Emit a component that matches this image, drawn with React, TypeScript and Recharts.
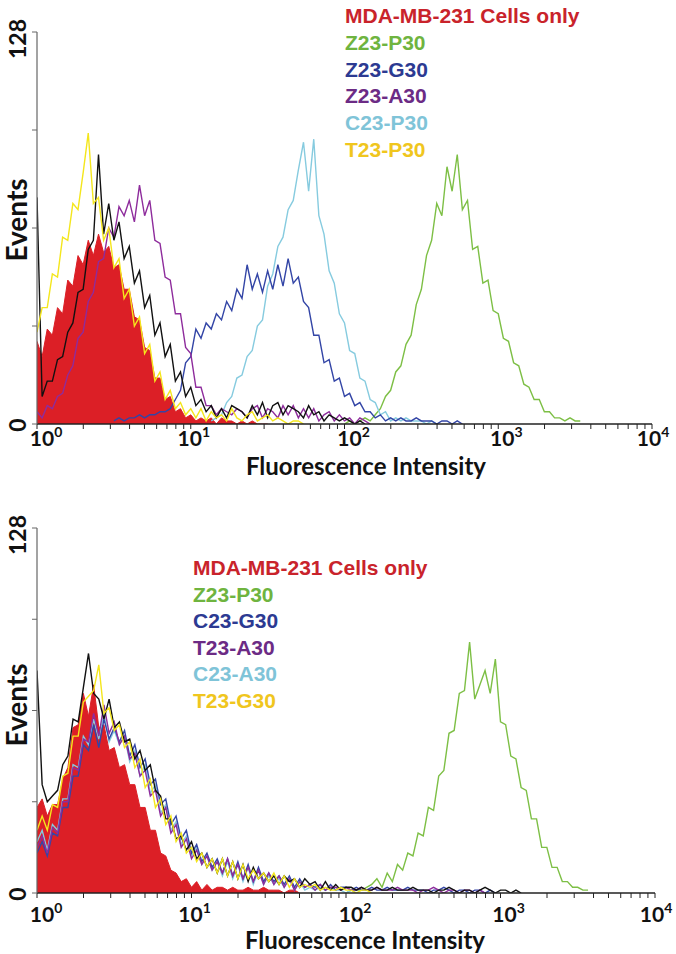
import React from "react";
import { ComposedChart, Area, Line, XAxis, YAxis } from "recharts";

// log-amplified channels: 30 channels per decade, 10^0 .. 10^4
const CH_PER_DECADE = 30;
const CHANNELS = 120;
const Y_TICKS = [0, 32, 64, 96, 128];

const RED = "#dc1f26";
const GREEN = "#7dbf45";
const BLUE = "#3345a6";
const PURPLE = "#8e2c9c";
const LIGHT = "#86cbdf";
const YELLOW = "#f4e61c";
const BLACK = "#111111";

const LEGEND_COLORS = ["#c9232b", "#6fb43f", "#2c3a92", "#6c2b85", "#7fc4d8", "#f0c61e"];

// ---------- panel A ----------
const A_LEGEND = ["MDA-MB-231 Cells only", "Z23-P30", "Z23-G30", "Z23-A30", "C23-P30", "T23-P30"];

const A_RED_START = 0;
const A_RED = [27, 22, 31, 29, 38, 36, 47, 45, 55, 52, 60, 55, 62, 56, 58, 51, 52, 44, 44, 35, 34, 25, 24, 15, 15, 8, 9, 4, 5, 2, 3, 1, 2, 1, 2, 0, 2, 1, 1, 0, 1, 0, 1, 0, 0, 0];

const A_BLACK_START = 0;
const A_BLACK = [74, 9, 14, 14, 21, 22, 30, 33, 43, 44, 57, 60, 88, 62, 72, 60, 66, 54, 58, 46, 50, 38, 42, 29, 33, 22, 26, 14, 17, 9, 12, 6, 8, 4, 6, 2, 5, 2, 6, 5, 4, 2, 6, 3, 7, 2, 6, 7, 3, 6, 5, 4, 2, 6, 3, 4, 1, 3, 2, 1, 2, 1, 0, 1, 0];

const A_YELLOW_START = 0;
const A_YELLOW = [30, 38, 38, 49, 48, 61, 60, 72, 70, 82, 95, 72, 74, 60, 64, 51, 54, 41, 44, 32, 35, 23, 26, 14, 17, 8, 11, 5, 7, 3, 5, 2, 5, 1, 4, 2, 3, 1, 5, 2, 1, 3, 4, 1, 2, 3, 1, 2, 1, 0, 1, 1, 0];

const A_PURPLE_START = 0;
const A_PURPLE = [4, 2, 6, 5, 9, 10, 16, 19, 28, 30, 40, 43, 53, 54, 64, 61, 71, 68, 73, 66, 78, 68, 73, 60, 59, 48, 47, 36, 36, 25, 23, 12, 12, 6, 6, 3, 5, 4, 3, 5, 4, 2, 5, 6, 2, 5, 4, 2, 6, 3, 6, 2, 5, 2, 5, 1, 3, 4, 1, 3, 1, 2, 0, 2, 1, 0];

const A_BLUE_START = 15;
const A_BLUE = [1, 2, 1, 2, 2, 3, 2, 3, 3, 4, 4, 5, 8, 11, 20, 22, 31, 28, 33, 31, 36, 34, 40, 37, 44, 41, 52, 44, 49, 43, 50, 44, 52, 45, 54, 46, 48, 40, 38, 29, 29, 20, 21, 14, 15, 9, 10, 6, 7, 4, 4, 2, 3, 1, 2, 1, 2, 1, 1, 2, 1, 1, 1, 0, 1, 1, 0, 1, 0];

const A_LIGHT_START = 34;
const A_LIGHT = [1, 2, 3, 7, 9, 15, 16, 22, 24, 32, 34, 45, 49, 58, 61, 70, 73, 83, 92, 76, 93, 68, 62, 50, 46, 36, 33, 24, 23, 15, 14, 8, 7, 3, 4, 1, 2, 1, 2, 1, 1, 1, 0, 1, 0];

const A_GREEN_START = 60;
const A_GREEN = [0, 1, 0, 1, 2, 1, 3, 5, 9, 11, 17, 19, 26, 29, 39, 44, 55, 60, 72, 68, 84, 76, 88, 70, 73, 57, 58, 46, 47, 37, 36, 28, 27, 20, 19, 13, 12, 8, 8, 4, 4, 2, 2, 1, 2, 1, 1];

// ---------- panel B ----------
const B_LEGEND = ["MDA-MB-231 Cells only", "Z23-P30", "C23-G30", "T23-A30", "C23-A30", "T23-G30"];

const B_RED_START = 0;
const B_RED = [30, 33, 27, 31, 31, 40, 44, 58, 59, 70, 62, 73, 58, 59, 50, 51, 44, 45, 38, 38, 30, 30, 22, 22, 14, 13, 8, 7, 4, 5, 2, 4, 1, 3, 1, 2, 2, 1, 2, 1, 1, 2, 1, 1, 2, 1, 1, 1, 0, 1, 1, 0];

const B_BLACK_START = 0;
const B_BLACK = [78, 38, 32, 34, 36, 45, 48, 61, 60, 72, 84, 70, 68, 61, 68, 58, 60, 53, 54, 47, 50, 43, 45, 36, 34, 26, 26, 19, 20, 15, 18, 12, 14, 9, 12, 7, 12, 6, 11, 5, 10, 4, 9, 5, 7, 4, 6, 3, 6, 4, 5, 2, 5, 3, 4, 1, 4, 1, 3, 1, 2, 2, 1, 2, 1, 1, 2, 1, 1, 2, 1, 1, 1, 2, 1, 1, 1, 0, 1, 1, 2, 1, 0, 1, 1, 0, 1, 2, 1, 0, 1, 1, 0, 1, 0];

const B_YELLOW_START = 0;
const B_YELLOW = [22, 27, 22, 31, 30, 41, 42, 55, 55, 67, 69, 71, 80, 63, 65, 57, 59, 51, 53, 44, 47, 37, 40, 30, 33, 24, 27, 18, 21, 14, 16, 11, 14, 9, 12, 7, 12, 6, 11, 5, 10, 5, 8, 5, 7, 4, 7, 3, 6, 2, 5, 2, 3, 2, 3, 1, 2, 1, 1, 2, 1, 1, 0, 1, 1, 0];

const B_LIGHT_START = 0;
const B_LIGHT = [18, 22, 15, 24, 22, 33, 33, 45, 44, 55, 52, 61, 54, 63, 53, 57, 52, 55, 46, 50, 41, 45, 35, 38, 28, 31, 22, 25, 17, 20, 13, 16, 10, 13, 8, 11, 6, 11, 5, 10, 4, 9, 3, 8, 3, 6, 3, 5, 2, 5, 1, 4, 1, 2, 1, 2, 1, 2, 1, 1, 0, 1, 0];

const B_BLUE_START = 0;
const B_BLUE = [14, 18, 13, 21, 20, 30, 30, 41, 41, 52, 50, 59, 51, 61, 54, 58, 53, 57, 48, 52, 44, 47, 38, 40, 31, 33, 24, 27, 19, 22, 14, 17, 11, 14, 9, 12, 7, 12, 6, 11, 5, 10, 4, 9, 4, 7, 4, 6, 3, 6, 2, 5, 2, 3, 2, 3, 1, 3, 1, 2, 2, 1, 2, 1, 1, 2, 1, 1, 2, 1, 1, 1, 2, 1, 1, 1, 0, 1, 1, 2, 1, 0, 1, 1, 0, 1, 1, 0, 1, 0];

const B_PURPLE_START = 0;
const B_PURPLE = [16, 20, 14, 23, 21, 32, 32, 44, 43, 54, 53, 63, 55, 66, 56, 60, 52, 55, 47, 49, 41, 43, 34, 36, 27, 30, 21, 24, 16, 19, 12, 15, 10, 13, 8, 11, 7, 12, 6, 10, 5, 9, 4, 8, 3, 7, 3, 6, 2, 5, 1, 4, 2, 3, 1, 3, 1, 2, 2, 1, 2, 1, 1, 2, 1, 1, 2, 1, 1, 1, 2, 1, 1, 1, 0, 1, 1, 2, 1, 0, 1, 1, 0, 1, 1, 0, 1, 0];

const B_GREEN_START = 60;
const B_GREEN = [0, 1, 1, 1, 2, 3, 5, 2, 7, 4, 10, 8, 14, 13, 21, 20, 30, 29, 41, 43, 56, 57, 70, 71, 88, 68, 73, 78, 70, 82, 60, 59, 48, 47, 37, 36, 26, 26, 16, 16, 9, 9, 4, 4, 2, 2, 1, 1];

type Series = { key: string; start: number; values: number[]; color: string };

const A_SERIES: Series[] = [
  { key: "red", start: A_RED_START, values: A_RED, color: RED },
  { key: "green", start: A_GREEN_START, values: A_GREEN, color: GREEN },
  { key: "light", start: A_LIGHT_START, values: A_LIGHT, color: LIGHT },
  { key: "blue", start: A_BLUE_START, values: A_BLUE, color: BLUE },
  { key: "purple", start: A_PURPLE_START, values: A_PURPLE, color: PURPLE },
  { key: "black", start: A_BLACK_START, values: A_BLACK, color: BLACK },
  { key: "yellow", start: A_YELLOW_START, values: A_YELLOW, color: YELLOW },
];

const B_SERIES: Series[] = [
  { key: "red", start: B_RED_START, values: B_RED, color: RED },
  { key: "green", start: B_GREEN_START, values: B_GREEN, color: GREEN },
  { key: "light", start: B_LIGHT_START, values: B_LIGHT, color: LIGHT },
  { key: "blue", start: B_BLUE_START, values: B_BLUE, color: BLUE },
  { key: "purple", start: B_PURPLE_START, values: B_PURPLE, color: PURPLE },
  { key: "black", start: B_BLACK_START, values: B_BLACK, color: BLACK },
  { key: "yellow", start: B_YELLOW_START, values: B_YELLOW, color: YELLOW },
];

function buildRows(series: Series[]) {
  const rows: Record<string, number | null>[] = [];
  for (let ch = 0; ch <= CHANNELS; ch++) {
    const row: Record<string, number | null> = { ch };
    series.forEach((s) => {
      const i = ch - s.start;
      row[s.key] = i >= 0 && i < s.values.length ? s.values[i] : null;
    });
    rows.push(row);
  }
  return rows;
}

// major + minor log ticks (channel units)
const X_TICKS: number[] = [];
for (let d = 0; d < 4; d++) {
  for (let k = 1; k <= 9; k++) X_TICKS.push(+(CH_PER_DECADE * (d + Math.log10(k))).toFixed(3));
}
X_TICKS.push(CHANNELS);

const TICK_FONT = "Lato, 'Open Sans', sans-serif";
// small horizontal nudges of the decade labels, as in the original figure
const DECADE_DX = [9, 3, 9, 8, 1];

function DecadeTick(props: any) {
  const { x, payload, axisY, dy } = props;
  const d = payload.value / CH_PER_DECADE;
  if (Math.abs(d - Math.round(d)) > 1e-6) return <g />;
  const n = Math.round(d);
  return (
    <text x={x + DECADE_DX[n]} y={axisY + dy} textAnchor="middle" fontFamily={TICK_FONT} fontWeight={700} fontSize={21} fill="#111">
      10
      <tspan dy={-9} fontSize={14}>{n}</tspan>
    </text>
  );
}

function CountTick(props: any) {
  const { y, payload } = props;
  const v = payload.value;
  if (v !== 0 && v !== 128) return <g />;
  const cy = y + (v === 128 ? 7 : 1);
  return (
    <text
      x={17}
      y={cy}
      transform={`rotate(-90 17 ${cy})`}
      textAnchor="middle"
      dominantBaseline="central"
      fontFamily={TICK_FONT}
      fontWeight={700}
      fontSize={23}
      fill="#111"
    >
      {v}
    </text>
  );
}

function Histogram({
  series,
  height,
  margin,
  labelDy,
}: {
  series: Series[];
  height: number;
  margin: { top: number; right: number; bottom: number; left: number };
  labelDy: number;
}) {
  const rows = buildRows(series);
  const axisY = height - margin.bottom - 40;
  const [fill, ...lines] = series;
  return (
    <ComposedChart width={676} height={height} data={rows} margin={margin}>
      <XAxis
        dataKey="ch"
        type="number"
        domain={[0, CHANNELS]}
        ticks={X_TICKS}
        interval={0}
        height={40}
        tickSize={5}
        allowDataOverflow
        axisLine={{ stroke: "#222", strokeWidth: 1.5 }}
        tickLine={{ stroke: "#222", strokeWidth: 1 }}
        tick={(p: any) => <DecadeTick {...p} axisY={axisY} dy={labelDy} />}
      />
      <YAxis
        type="number"
        domain={[0, 128]}
        ticks={Y_TICKS}
        interval={0}
        width={30}
        tickSize={5}
        allowDataOverflow
        axisLine={{ stroke: "#666", strokeWidth: 1.2 }}
        tickLine={{ stroke: "#666", strokeWidth: 1 }}
        tick={(p: any) => <CountTick {...p} />}
      />
      <Area
        dataKey={fill.key}
        type="linear"
        stroke={fill.color}
        strokeWidth={1}
        fill={fill.color}
        fillOpacity={1}
        isAnimationActive={false}
      />
      {lines.map((s) => (
        <Line
          key={s.key}
          dataKey={s.key}
          type="linear"
          stroke={s.color}
          strokeWidth={1.4}
          dot={false}
          activeDot={false}
          isAnimationActive={false}
        />
      ))}
    </ComposedChart>
  );
}

const LEGEND_FONT = "'Liberation Sans', Arial, sans-serif";
const TITLE_FONT = "Lato, 'Open Sans', sans-serif";

function Texts() {
  return (
    <svg width={676} height={954} style={{ position: "absolute", left: 0, top: 0, pointerEvents: "none" }}>
      {A_LEGEND.map((t, i) => (
        <text key={"a" + i} x={345} y={23 + i * 26.8} fontFamily={LEGEND_FONT} fontWeight={700} fontSize={21} fill={LEGEND_COLORS[i]}>
          {t}
        </text>
      ))}
      {B_LEGEND.map((t, i) => (
        <text key={"b" + i} x={193} y={575 + i * 26.6} fontFamily={LEGEND_FONT} fontWeight={700} fontSize={21} fill={LEGEND_COLORS[i]}>
          {t}
        </text>
      ))}
      <text x={16} y={220} transform="rotate(-90 16 220)" textAnchor="middle" dominantBaseline="central" fontFamily={TITLE_FONT} fontWeight={700} fontSize={28} fill="#111">
        Events
      </text>
      <text x={16} y={705} transform="rotate(-90 16 705)" textAnchor="middle" dominantBaseline="central" fontFamily={TITLE_FONT} fontWeight={700} fontSize={28} fill="#111">
        Events
      </text>
      <text x={366} y={475} textAnchor="middle" fontFamily={TITLE_FONT} fontWeight={700} fontSize={24} fill="#111">
        Fluorescence Intensity
      </text>
      <text x={365} y={949} textAnchor="middle" fontFamily={TITLE_FONT} fontWeight={700} fontSize={24} fill="#111">
        Fluorescence Intensity
      </text>
    </svg>
  );
}

export default function App() {
  return (
    <div style={{ position: "absolute", left: 0, top: 0, width: 676, height: 954, background: "#fff" }}>
      <div style={{ position: "absolute", left: 0, top: 0 }}>
        <Histogram series={A_SERIES} height={480} margin={{ top: 32, right: 24, bottom: 16, left: 7 }} labelDy={22} />
      </div>
      <div style={{ position: "absolute", left: 0, top: 480 }}>
        <Histogram series={B_SERIES} height={474} margin={{ top: 48, right: 21, bottom: 21, left: 7 }} labelDy={29} />
      </div>
      <Texts />
    </div>
  );
}
